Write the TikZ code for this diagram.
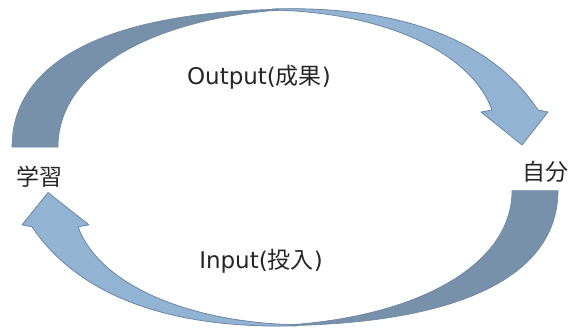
\documentclass[tikz,border=0pt]{standalone}
\usepackage{fontspec}
\setmainfont{DejaVu Sans}
\newfontfamily\jpfont{Noto Sans CJK JP}
\definecolor{bandback}{HTML}{7891AA}
\definecolor{bandfront}{HTML}{93B3D3}
\definecolor{bandedge}{HTML}{6A86A2}
\tikzset{
  backpart/.style={fill=bandback, draw=bandedge, line width=0.6pt, line join=round},
  frontpart/.style={fill=bandfront, draw=bandedge, line width=0.8pt, line join=round},
  lbl/.style={font=\fontsize{23}{27}\selectfont, inner sep=0pt, text=black!85},
}
% One half of the cycle: a ribbon rising from the left tail, turning over
% the top and ending in a downward arrow head on the right.
\newcommand\loopband{%
  \path[backpart] (12,147) .. controls (12,60) and (110,9) .. (300,9)
     .. controls (160,14) and (58,68) .. (58,147) -- cycle;
  \path[frontpart] (272,9) .. controls (410,5) and (495,45) .. (538,110)
     -- (548,112) -- (522,145) -- (481,112) -- (492,110)
     .. controls (470,50) and (380,12) .. (272,10) -- cycle;
}
\begin{document}
\begin{tikzpicture}[x=1pt, y=-1pt]
  \useasboundingbox (0,0) rectangle (569,327);
  % upper band: 学習 -> 自分
  \loopband
  % lower band: the same ribbon turned half a turn, 自分 -> 学習
  \begin{scope}[shift={(285,169)}, rotate=180, yscale=0.98, shift={(-285,-169)}]
    \loopband
  \end{scope}
  \node[lbl, anchor=base] (output) at (259,84) {Output({\jpfont 成果})};
  \node[lbl, anchor=base] (input) at (261,268.5) {Input({\jpfont 投入})};
  \node[lbl, anchor=base] (study) at (39.5,185.5) {\jpfont 学習};
  \node[lbl, anchor=base] (self) at (545.5,180) {\jpfont 自分};
\end{tikzpicture}
\end{document}
